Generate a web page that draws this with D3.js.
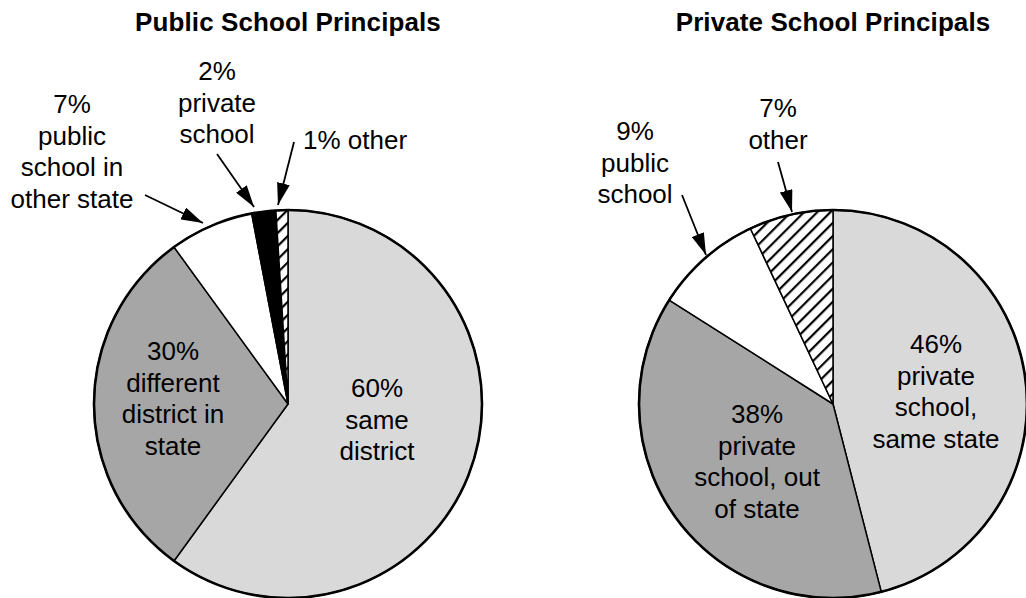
<!DOCTYPE html>
<html>
<head>
<meta charset="utf-8">
<script src="https://cdn.jsdelivr.net/npm/d3@7"></script>
<style>
  html, body { margin: 0; padding: 0; background: #fff; }
  svg { display: block; }
  text { font-family: "Liberation Sans", Arial, Helvetica, sans-serif; fill: #000; }
</style>
</head>
<body>
<svg id="chart" width="1026" height="598"></svg>
<script>
// ---- data ----
const publicCategories = ["same district", "different district in state", "public school in other state", "private school", "other"];
const publicValues = [60, 30, 7, 2, 1];
const publicLabels = [
  ["60%", "same", "district"],
  ["30%", "different", "district in", "state"],
  ["7%", "public", "school in", "other state"],
  ["2%", "private", "school"],
  ["1% other"]
];

const privateCategories = ["private school, same state", "private school, out of state", "public school", "other"];
const privateValues = [46, 38, 9, 7];
const privateLabels = [
  ["46%", "private", "school,", "same state"],
  ["38%", "private", "school, out", "of state"],
  ["9%", "public", "school"],
  ["7%", "other"]
];

const titles = ["Public School Principals", "Private School Principals"];

// ---- styling ----
const fills = {
  light: "#d9d9d9",
  dark: "#a6a6a6",
  white: "#ffffff",
  black: "#000000",
  hatch: "url(#hatch)"
};
const publicFills = [fills.light, fills.dark, fills.white, fills.black, fills.hatch];
const privateFills = [fills.light, fills.dark, fills.white, fills.hatch];

// label placement relative to each pie centre (first baseline), plus optional leader arrow
const publicPlacement = [
  { x: 89, y: -7 },
  { x: -115, y: -44 },
  { x: -216, y: -291, from: [-143, -209], tip: [-85, -181] },
  { x: -71, y: -324, from: [-71, -250], tip: [-34, -197] },
  { x: 15, y: -255, anchor: "start", from: [6, -262], tip: [-10, -199] }
];
const privatePlacement = [
  { x: 103, y: -51 },
  { x: -76, y: 19 },
  { x: -198, y: -264, from: [-151, -209], tip: [-127, -149] },
  { x: -55, y: -287, from: [-55, -242], tip: [-41, -192] }
];

const R = 194;
const lineH = 31.5;
const svg = d3.select("#chart");

// hatch pattern for the "other" slices
const defs = svg.append("defs");
const pat = defs.append("pattern")
  .attr("id", "hatch")
  .attr("patternUnits", "userSpaceOnUse")
  .attr("width", 9.3).attr("height", 9.3)
  .attr("patternTransform", "rotate(45)");
pat.append("rect").attr("width", 9.3).attr("height", 9.3).attr("fill", "#fff");
pat.append("line").attr("x1", 2).attr("y1", 0).attr("x2", 2).attr("y2", 9.3)
  .attr("stroke", "#000").attr("stroke-width", 2.2);

const marker = defs.append("marker")
  .attr("id", "arrowhead")
  .attr("viewBox", "0 0 22 13")
  .attr("refX", 22).attr("refY", 6.5)
  .attr("markerWidth", 22).attr("markerHeight", 13)
  .attr("markerUnits", "userSpaceOnUse")
  .attr("orient", "auto");
marker.append("path").attr("d", "M0,0 L22,6.5 L0,13 Z").attr("fill", "#000");

const pie = d3.pie().sort(null).value(d => d).startAngle(0).endAngle(2 * Math.PI);
const arc = d3.arc().innerRadius(0).outerRadius(R);

function drawPie(cx, cy, title, cats, values, fillList, labels, placement) {
  const g = svg.append("g").attr("transform", `translate(${cx},${cy})`);

  svg.append("text")
    .attr("x", cx).attr("y", 31)
    .attr("text-anchor", "middle")
    .attr("font-weight", "bold")
    .attr("font-size", 26)
    .attr("letter-spacing", 0.1)
    .text(title);

  const arcs = pie(values);
  g.selectAll("path.slice")
    .data(arcs)
    .enter().append("path")
    .attr("class", "slice")
    .attr("d", arc)
    .attr("fill", (d, i) => fillList[i])
    .attr("stroke", "#000")
    .attr("stroke-width", 1.5)
    .attr("stroke-linejoin", "round")
    .append("title").text((d, i) => `${cats[i]}: ${values[i]}%`);

  g.append("circle").attr("r", R)
    .attr("fill", "none").attr("stroke", "#000").attr("stroke-width", 2.6);

  labels.forEach((lines, i) => {
    const p = placement[i];
    const t = g.append("text")
      .attr("text-anchor", p.anchor || "middle")
      .attr("font-size", 26);
    lines.forEach((s, k) => {
      t.append("tspan").attr("x", p.x).attr("y", p.y + k * lineH).text(s);
    });
    if (p.from) {
      g.append("line")
        .attr("x1", p.from[0]).attr("y1", p.from[1])
        .attr("x2", p.tip[0]).attr("y2", p.tip[1])
        .attr("stroke", "#000").attr("stroke-width", 1.8)
        .attr("marker-end", "url(#arrowhead)");
    }
  });
}

drawPie(288, 404, titles[0], publicCategories, publicValues, publicFills, publicLabels, publicPlacement);
drawPie(833, 404, titles[1], privateCategories, privateValues, privateFills, privateLabels, privatePlacement);
</script>
</body>
</html>
